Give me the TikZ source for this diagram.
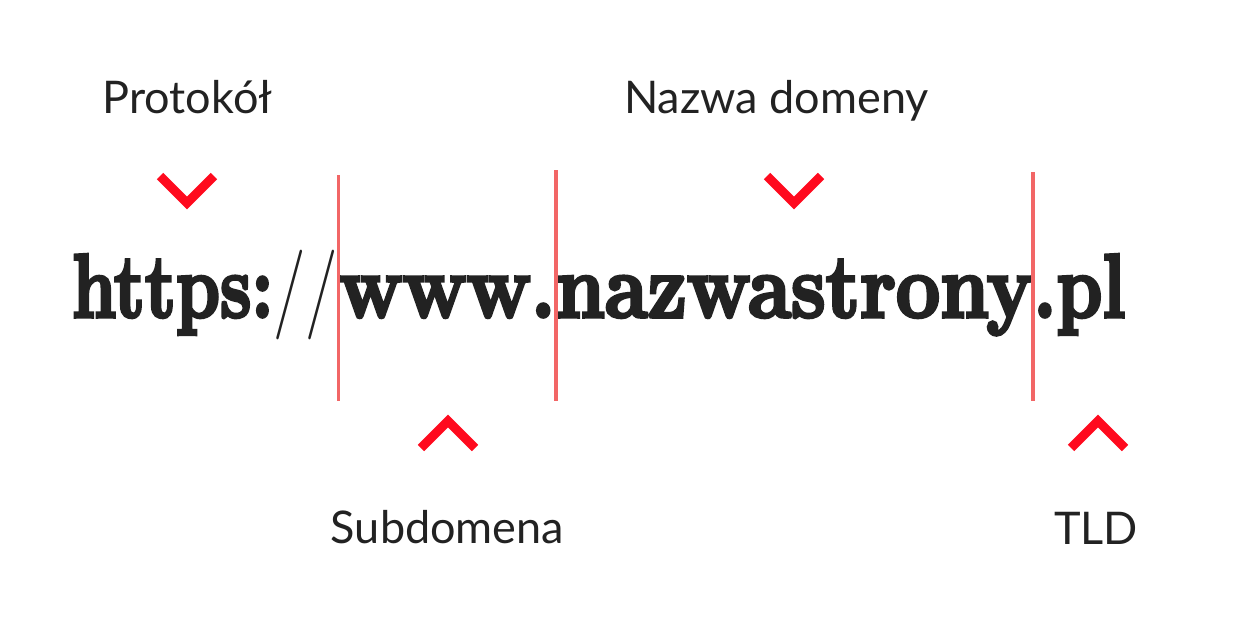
\documentclass[tikz,border=0pt]{standalone}
\usepackage{fontspec}
\setmainfont{Lato}
\newfontfamily\urlfont{Latin Modern Roman}[BoldFeatures={FakeBold=4}]
\usepackage{graphicx}
\usetikzlibrary{calc}
\definecolor{txt}{HTML}{222222}
\definecolor{divline}{HTML}{F26666}
\definecolor{chev}{HTML}{FF0A1E}
\begin{document}
\begin{tikzpicture}[x=1pt,y=-1pt,
  lbl/.style={font=\fontsize{45}{54}\selectfont, text=txt, inner sep=0pt, anchor=base},
  urlpart/.style={font=\urlfont\bfseries\fontsize{90}{100}\selectfont, text=txt, inner sep=0pt, anchor=base west},
  divider/.style={draw=divline, line width=3.5pt},
  chevron/.style={draw=chev, line width=9pt, miter limit=10},
]
\fill[white] (0,0) rectangle (1250,624);
\useasboundingbox (0,0) rectangle (1250,624);

% URL pieces
\node[urlpart] (p1) at (72,317) {\resizebox{266pt}{\height}{https:{\mdseries//}}};
\node[urlpart] (p2) at (p1.base east) {\resizebox{217pt}{\height}{www.}};
\node[urlpart] (p3) at (p2.base east) {\resizebox{477pt}{\height}{nazwastrony}};
\node[urlpart] (p4) at (p3.base east) {\resizebox{92pt}{\height}{.pl}};

% divider lines
\coordinate (t1) at (0,175);
\coordinate (t2) at (0,170);
\coordinate (t3) at (0,172);
\coordinate (bot) at (0,401);
\draw[divider] (p1.base east |- t1) -- (p1.base east |- bot);
\draw[divider] (p2.base east |- t2) -- (p2.base east |- bot);
\draw[divider] (p3.base east |- t3) -- (p3.base east |- bot);

% chevrons
\coordinate (c1) at (187,203);
\coordinate (c2) at (794,203);
\coordinate (c3) at (448,421);
\coordinate (c4) at (1098,421);
\draw[chevron] ($(c1)+(-27,-27)$) -- (c1) -- ($(c1)+(27,-27)$);
\draw[chevron] ($(c2)+(-27,-27)$) -- (c2) -- ($(c2)+(27,-27)$);
\draw[chevron] ($(c3)+(-27,27)$) -- (c3) -- ($(c3)+(27,27)$);
\draw[chevron] ($(c4)+(-27,27)$) -- (c4) -- ($(c4)+(27,27)$);

% labels
\node[lbl] (protokol) at (187.5,113) {Protokół};
\node[lbl] (nazwa) at (776.5,113) {Nazwa domeny};
\node[lbl] (sub) at (447.5,543) {Subdomena};
\node[lbl] (tld) at (1096,544) {TLD};
\end{tikzpicture}
\end{document}
